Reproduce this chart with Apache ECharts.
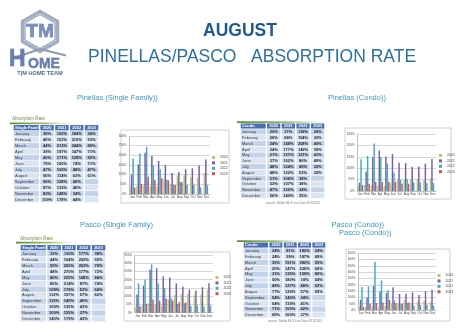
<!DOCTYPE html>
<html><head><meta charset="utf-8">
<script src="https://cdn.jsdelivr.net/npm/echarts@6/dist/echarts.min.js"></script>
<style>html,body{margin:0;padding:0;background:#fff}#c{width:460px;height:336px}</style>
</head><body><div id="c"></div>
<script>
// ---------- data ----------
const months = ['Jan','Feb','Mar','Apr','May','Jun','Jul','Aug','Sep','Oct','Nov','Dec'];
const monthNames = ['January','February','March','April','May','June','July','August','September','October','November','December'];
const years = ['2020','2021','2022','2023'];
const yTicksPinSF = [0,300];   // min / max of axis
const yTicksPinC = [0,250];
const yTicksPasSF = [0,350];
const yTicksPasC = [0,450];

const pinSF2020 = [38,40,44,39,40,79,47,96,96,87,83,109];
const pinSF2021 = [100,153,213,197,171,150,109,114,128,133,148,178];
const pinSF2022 = [184,210,244,147,128,74,48,63,46,46,34,44];
const pinSF2023 = [34,53,89,71,82,71,47,61,null,null,null,null];

const pinC2020 = [20,26,24,24,21,37,48,48,51,53,47,56];
const pinC2021 = [37,84,148,177,151,162,124,122,106,107,120,140];
const pinC2022 = [139,154,208,149,121,80,49,53,38,38,34,35];
const pinC2023 = [26,32,40,39,41,40,32,32,null,null,null,null];

const pasSF2020 = [33,44,55,48,40,80,108,112,112,109,109,140];
const pasSF2021 = [110,164,260,270,220,214,178,157,140,135,155,179];
const pasSF2022 = [177,202,293,177,148,87,53,57,40,43,37,43];
const pasSF2023 = [38,55,78,72,84,74,64,62,null,null,null,null];

const pasC2020 = [24,24,30,20,31,50,49,77,54,64,71,65];
const pasC2021 = [81,99,191,147,135,180,127,129,140,119,150,160];
const pasC2022 = [182,187,382,235,159,74,48,57,34,41,42,37];
const pasC2023 = [24,49,55,60,80,54,52,59,null,null,null,null];

// ---------- styling / layout ----------
const colors = ['#B5CB7E','#7A5FA6','#45A9C6','#C9575A'];
const colEdges = [0,1.8,2.8,3.8,4.8,5.8];

const panels = [
  {grid:{left:129,top:136,width:81,height:58}, axis:yTicksPinSF, data:[pinSF2020,pinSF2021,pinSF2022,pinSF2023], legend:{left:212,top:156}, frame:[121,130,108,73]},
  {grid:{left:357,top:134,width:79,height:57}, axis:yTicksPinC, data:[pinC2020,pinC2021,pinC2022,pinC2023], legend:{left:439,top:154}, frame:[345,128,106,71]},
  {grid:{left:134.5,top:255,width:78.5,height:57.7}, axis:yTicksPasSF, data:[pasSF2020,pasSF2021,pasSF2022,pasSF2023], legend:{left:215.5,top:276}, frame:[124,252,106,69]},
  {grid:{left:358,top:253.3,width:78,height:56.7}, axis:yTicksPasC, data:[pasC2020,pasC2021,pasC2022,pasC2023], legend:{left:437.5,top:274}, frame:[346,249,104,72]}
];
const tables = [
  {grid:{left:13,top:124.7,width:86,height:78}, head:'Single Family', data:[pinSF2020,pinSF2021,pinSF2022,pinSF2023]},
  {grid:{left:240,top:123.1,width:85,height:75.4}, head:'Condo', data:[pinC2020,pinC2021,pinC2022,pinC2023]},
  {grid:{left:20,top:244.7,width:86,height:77.2}, head:'Single Family', data:[pasSF2020,pasSF2021,pasSF2022,pasSF2023]},
  {grid:{left:243,top:242.1,width:83,height:75.8}, head:'Condo', data:[pasC2020,pasC2021,pasC2022,pasC2023]}
];

const grid = [], xAxis = [], yAxis = [], series = [], legend = [];
panels.forEach((p, i) => {
  grid.push(Object.assign({containLabel:false}, p.grid));
  xAxis.push({type:'category', gridIndex:i, data:months,
    axisLine:{lineStyle:{color:'#BDBDBD',width:1}}, axisTick:{show:false},
    axisLabel:{fontSize:3, color:'#444', margin:2, interval:0, fontFamily:'Arial'}});
  yAxis.push({type:'value', gridIndex:i, min:p.axis[0], max:p.axis[1], interval:50,
    axisLine:{show:true, lineStyle:{color:'#BDBDBD',width:1}}, axisTick:{show:false},
    axisLabel:{fontSize:3, color:'#444', margin:2.5, formatter:'{value}%', fontFamily:'Arial'},
    splitLine:{lineStyle:{color:'#D6D6D6',width:1}}});
  p.data.forEach((arr, k) => {
    series.push({type:'bar', name:years[k], xAxisIndex:i, yAxisIndex:i, data:arr,
      barGap:'0%', barCategoryGap:'10%', itemStyle:{color:colors[k]}, silent:true});
  });
  legend.push({left:p.legend.left, top:p.legend.top, orient:'vertical', padding:0,
    itemWidth:3, itemHeight:3, itemGap:2.4, icon:'rect', selectedMode:false, data:years,
    textStyle:{fontSize:3.4, color:'#444', fontFamily:'Arial'}});
});

tables.forEach((t, j) => {
  const gi = panels.length + j;
  grid.push(Object.assign({containLabel:false}, t.grid));
  xAxis.push({type:'value', gridIndex:gi, min:0, max:colEdges[colEdges.length-1], show:false});
  yAxis.push({type:'category', gridIndex:gi, inverse:true, show:false, data:[t.head].concat(monthNames)});
  const cells = [], texts = [];
  for (let r = 0; r < 13; r++) {
    for (let c = 0; c < 5; c++) {
      cells.push([c, r]);
      let s;
      if (r === 0) s = c === 0 ? t.head : years[c-1];
      else if (c === 0) s = monthNames[r-1];
      else { const v = t.data[c-1][r-1]; s = (v === null || v === undefined) ? '' : v + '%'; }
      texts.push(s);
    }
  }
  series.push({type:'custom', xAxisIndex:gi, yAxisIndex:gi, silent:true, data:cells,
    renderItem: function (params, api) {
      const c = api.value(0), r = api.value(1);
      const p0 = api.coord([colEdges[c], r]);
      const p1 = api.coord([colEdges[c+1], r]);
      const h = api.size([0, 1])[1];
      const x0 = p0[0], x1 = p1[0], yc = p0[1];
      const fill = r === 0 ? '#4A6FB0' : (r % 2 === 1 ? '#C3D3EA' : '#DAE4F2');
      const txt = texts[params.dataIndex];
      return {type:'group', children:[
        {type:'rect', shape:{x:x0+0.7, y:yc-h/2+0.35, width:x1-x0-1.4, height:h-0.7}, style:{fill:fill}},
        {type:'text', x: c === 0 ? x0+2 : (x0+x1)/2, y: yc+0.2,
          style:{text:txt, fill: r === 0 ? '#ffffff' : (c === 0 ? '#3b3b3b' : '#1e1e1e'),
            fontSize:4, fontFamily:'Arial', fontWeight: (r === 0 || c > 0) ? 'bold' : 'normal',
            align: c === 0 ? 'left' : 'center', verticalAlign:'middle'}}
      ]};
    }});
});

// ---------- decoration ----------
function greenLine(x, y, w) {
  return {type:'rect', shape:{x:x, y:y, width:w, height:1.6}, silent:true,
    style:{fill:new echarts.graphic.LinearGradient(0,0,1,0,[
      {offset:0,color:'#5E8F2C'},{offset:0.55,color:'#9CC66B'},{offset:1,color:'rgba(210,235,185,0)'}])}};
}
function txt(text, x, y, size, color, opts) {
  return Object.assign({type:'text', x:x, y:y, silent:true,
    style:Object.assign({text:text, fontSize:size, fill:color, fontFamily:'Arial', align:'left', verticalAlign:'middle'}, opts||{})});
}
const graphic = [];
panels.forEach(p => {
  graphic.push({type:'rect', shape:{x:p.frame[0], y:p.frame[1], width:p.frame[2], height:p.frame[3]}, silent:true, z:-10,
    style:{fill:'#ffffff', stroke:'#C4C4C4', lineWidth:0.8}});
});
graphic.push(
  // logo
  {type:'polygon', shape:{points:[[40,11.5],[57.5,21.5],[57.5,41.5],[40,51.5],[22.5,41.5],[22.5,21.5]]}, silent:true,
    style:{fill:'rgba(0,0,0,0)', stroke:'#A3ADC0', lineWidth:3.5}},
  {type:'polygon', shape:{points:[[40,14.5],[55,23],[55,40],[40,48.5],[25,40],[25,23]]}, silent:true,
    style:{fill:'rgba(0,0,0,0)', stroke:'#5C71A0', lineWidth:0.8}},
  txt('TM', 40, 32, 19, '#7C90BB', {align:'center', fontWeight:'bold', stroke:'#3E5A92', lineWidth:0.6}),
  {type:'polyline', shape:{points:[[11,59],[40,49],[66,55.5]]}, silent:true, style:{stroke:'#8D9AB2', lineWidth:2, fill:null}},
  txt('H', 9, 60, 23, '#6A7FAE', {fontWeight:'bold', stroke:'#3E5A92', lineWidth:0.5}),
  txt('OME', 28, 64.5, 14, '#6A7FAE', {fontWeight:'bold', stroke:'#3E5A92', lineWidth:0.4}),
  txt('T|M HOME TEAM', 40, 73.5, 5.6, '#4E6797', {align:'center', fontWeight:'bold'}),
  // titles
  txt('AUGUST', 240, 31.5, 17.5, '#1F5B8D', {align:'center', fontWeight:'bold'}),
  txt('PINELLAS/PASCO   ABSORPTION RATE', 88, 57.5, 17.5, '#2C70A1'),
  txt('Pinellas (Single Family))', 77, 98, 7.5, '#3E97C8'),
  txt('Pinellas (Condo))', 328, 98, 7.5, '#3E97C8'),
  txt('Pasco (Single Family)', 80, 224.5, 7.5, '#3E97C8'),
  txt('Pasco (Condo))', 331.5, 225, 7.5, '#3E97C8'),
  txt('Pasco (Condo))', 339, 232.7, 7.5, '#3E97C8'),
  // table captions
  txt('Absorption Rate', 12, 118.7, 4.6, '#6E8F45'),
  greenLine(10, 122.6, 66),
  txt('Absorption Rate', 20, 239.2, 4.6, '#6E8F45'),
  greenLine(16, 241.8, 62),
  greenLine(237, 121.3, 93),
  greenLine(237, 240.3, 70),
  txt('source: Stellar MLS Live Data 9/13/2023', 293, 203.3, 3, '#7A7A7A', {align:'center'}),
  txt('source: Stellar MLS Live Data 9/13/2023', 295, 321.3, 3, '#7A7A7A', {align:'center'})
);

const chart = echarts.init(document.getElementById('c'), null, {renderer:'canvas'});
chart.setOption({animation:false, backgroundColor:'#ffffff', grid, xAxis, yAxis, series, legend, graphic});
</script>
</body></html>
